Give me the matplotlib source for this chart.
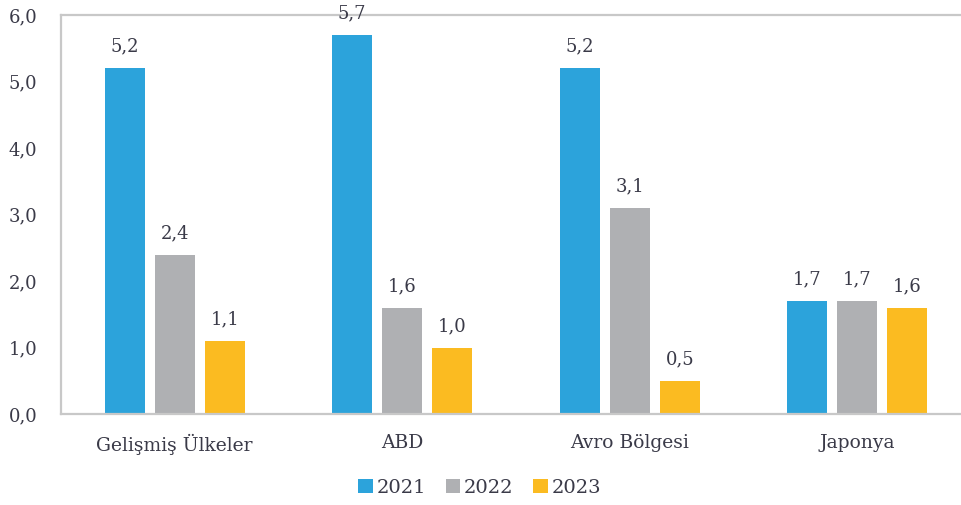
import matplotlib.pyplot as plt
import numpy as np

# Veriler
kategoriler = ['Gelişmiş Ülkeler', 'ABD', 'Avro Bölgesi', 'Japonya']
yillar = ['2021', '2022', '2023']
degerler_2021 = [5.2, 5.7, 5.2, 1.7]
degerler_2022 = [2.4, 1.6, 3.1, 1.7]
degerler_2023 = [1.1, 1.0, 0.5, 1.6]
renkler = ['#2CA3DB', '#AFB0B3', '#FBBB21']

plt.rcParams['font.family'] = ['DejaVu Serif']
yazi_rengi = '#3A3A48'

fig = plt.figure(figsize=(9.62, 5.05), dpi=100)
ax = fig.add_axes([0.0634, 0.180, 0.946, 0.790])

x = np.arange(len(kategoriler))
genislik = 0.176
aralik = 0.22

seriler = [degerler_2021, degerler_2022, degerler_2023]
for i, (seri, yil, renk) in enumerate(zip(seriler, yillar, renkler)):
    konum = x + (i - 1) * aralik
    bars = ax.bar(konum, seri, width=genislik, color=renk, label=yil)
    for b, v in zip(bars, seri):
        ax.annotate(f'{v:.1f}'.replace('.', ','),
                    (b.get_x() + b.get_width() / 2, v),
                    xytext=(0, 9), textcoords='offset points',
                    ha='center', va='bottom', fontsize=13, color=yazi_rengi)

ax.set_xlim(-0.5, 3.5)
ax.set_ylim(0, 6)
ax.set_yticks(np.arange(0, 7, 1))
ax.set_yticklabels([f'{t:.1f}'.replace('.', ',') for t in np.arange(0, 7, 1)])
ax.set_xticks(x)
ax.set_xticklabels(kategoriler)
ax.tick_params(axis='both', length=0, colors=yazi_rengi)
ax.tick_params(axis='y', pad=17, labelsize=13)
ax.tick_params(axis='x', pad=14, labelsize=13.5)

for s in ['left', 'top', 'bottom']:
    ax.spines[s].set_color('#C8C8C8')
    ax.spines[s].set_linewidth(1.6)
ax.spines['right'].set_visible(False)

ax.legend(loc='center', bbox_to_anchor=(0.46, -0.185), ncol=3,
          frameon=False, fontsize=14, handlelength=0.75, handleheight=0.75,
          handletextpad=0.2, columnspacing=1.0, labelcolor=yazi_rengi)

fig.savefig('out.png', dpi=100)
